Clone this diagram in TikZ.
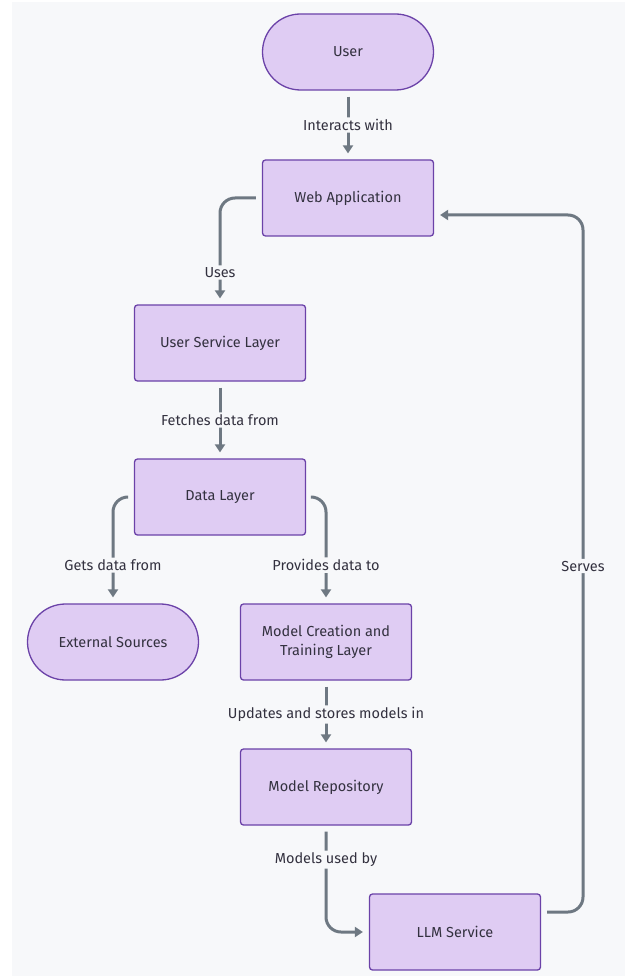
\documentclass[tikz,border=0pt]{standalone}
\usepackage{fontspec}
\setmainfont{Fira Sans}
\usetikzlibrary{arrows.meta}
\usetikzlibrary{positioning}
\definecolor{mfill}{HTML}{DFCCF3}
\definecolor{mborder}{HTML}{6B42A8}
\definecolor{mline}{HTML}{6E7882}
\definecolor{mbg}{HTML}{F7F8FA}
\definecolor{mtext}{HTML}{33313F}
\tikzset{block/.style = {draw=mborder, fill=mfill, line width=1.3pt, rounded corners=3pt, minimum width=171pt, minimum height=76pt, align=center, text=mtext, font=\fontsize{14.5}{19}\selectfont}}
\tikzset{term/.style = {block, rounded corners=38pt}}
\tikzset{link/.style = {draw=mline, line width=3pt, rounded corners=15pt, -{Triangle[length=8pt, width=10pt]}, shorten <=6pt, shorten >=6pt}}
\tikzset{lbl/.style = {fill=mbg, text=mtext, inner sep=2pt, font=\fontsize{14.5}{16}\selectfont}}

\begin{document}
\begin{tikzpicture}[x=1pt, y=-1pt]
    \fill [white] (0, 0) rectangle (625, 976);
    \fill [mbg] (12, 2) rectangle (625, 976);

    \node [term] (user) at (348, 52) {User};
    \node [block] (web) at (348, 198) {Web Application};
    \node [block] (usl) at (220, 343) {User Service Layer};
    \node [block] (data) at (220, 497) {Data Layer};
    \node [term] (ext) at (113, 642) {External Sources};
    \node [block] (mct) at (326, 642) {Model Creation and\\Training Layer};
    \node [block] (repo) at (326, 787) {Model Repository};
    \node [block] (llm) at (455, 932) {LLM Service};
    \coordinate (ret) at (583, 566);

    \draw [link] (user) -- node [lbl] {Interacts with} (web);
    \draw [link] (web.west) -| node [lbl, pos=0.85] {Uses} (usl.north);
    \draw [link] (usl) -- node [lbl] {Fetches data from} (data);
    \draw [link] (data.west) -| node [lbl, pos=0.82] {Gets data from} (ext.north);
    \draw [link] (data.east) -| node [lbl, pos=0.82] {Provides data to} (mct.north);
    \draw [link] (mct) -- node [lbl] {Updates and stores models in} (repo);
    \draw [link] (repo.south) |- node [lbl, pos=0.16] {Models used by} (llm.west);
    \draw [link] ([yshift=20pt]llm.east) -| (ret) node [lbl] {Serves} |- ([yshift=-17pt]web.east);
\end{tikzpicture}
\end{document}
